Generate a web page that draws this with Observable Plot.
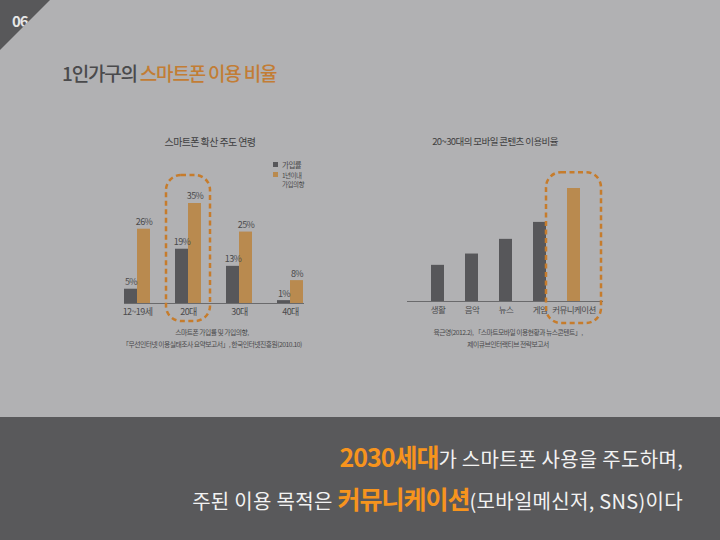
<!DOCTYPE html>
<html>
<head>
<meta charset="utf-8">
<script src="https://cdn.jsdelivr.net/npm/d3@7"></script>
<script src="https://cdn.jsdelivr.net/npm/@observablehq/plot@0.6"></script>
<style>
  body { margin: 0; width: 720px; height: 540px; overflow: hidden; background: #b1b1b3;
         font-family: "Noto Sans CJK KR", "Noto Sans", sans-serif; position: relative; }
  .abs { position: absolute; white-space: nowrap; }
  .corner { left: 0; top: 0; width: 50px; height: 50px; background: #58585a;
            clip-path: polygon(0 0, 100% 0, 0 100%); }
  .corner span { position: absolute; left: 12px; top: 13px; color: #e6e6e6; font: 700 15px/1 "Noto Sans CJK KR"; letter-spacing: -1px; }
  .title { left: 62px; top: 63px; font-size: 19px; line-height: 1; font-weight: 500; color: #4a4a4c; letter-spacing: -1.2px; }
  .title b { color: #c27d35; font-weight: 500; }
  .ctitle { top: 137px; font-size: 10px; line-height: 1; color: #3f3f41; letter-spacing: -0.6px; transform: translateX(-50%); }
  .cap { font-size: 6.8px; line-height: 11.5px; color: #4a4a4c; text-align: center; letter-spacing: -0.5px; transform: translateX(-50%); }
  .legend { font-size: 7.5px; line-height: 1; color: #4a4a4c; letter-spacing: -0.5px; }
  .sw { display: inline-block; width: 5px; height: 5px; margin-right: 4px; vertical-align: 1px; }
  .band { left: 0; top: 417px; width: 720px; height: 123px; background: #59595b; }
  .msg { right: 37px; color: #f2f2f2; font-size: 20px; letter-spacing: 0.3px; text-align: right; }
  .msg b { color: #f7941d; font-weight: 700; font-size: 25px; letter-spacing: -1px; }
  .plot { position: absolute; }
</style>
</head>
<body>
<div class="abs corner"><span>06</span></div>
<div class="abs title">1인가구의 <b>스마트폰 이용 비율</b></div>

<div class="abs ctitle" style="left:210px">스마트폰 확산 주도 연령</div>
<div class="abs ctitle" style="left:495px;font-size:9.5px">20~30대의 모바일 콘텐츠 이용비율</div>

<div class="abs legend" style="left:273px;top:161px"><span class="sw" style="background:#57575a"></span>가입률</div>
<div class="abs legend" style="left:273px;top:171px;font-size:6.5px;line-height:9px"><span class="sw" style="background:#b98a4f"></span>1년이내<br><span style="padding-left:9px">가입의향</span></div>

<div class="abs cap" style="left:212px;top:327px">스마트폰 가입률 및 가입의향,<br>「무선인터넷 이용실태조사 요약보고서」, 한국인터넷진흥원(2010.10)</div>
<div class="abs cap" style="left:508px;top:327px">육근영(2012.2), 「스마트모바일 이용현황과 뉴스콘텐트」,<br>제이큐브인터랙티브 전략보고서</div>

<div id="left" class="plot" style="left:100px;top:160px"></div>
<div id="right" class="plot" style="left:390px;top:160px"></div>

<div class="abs band"></div>
<div class="abs msg" style="top:438px"><b>2030세대</b>가 스마트폰 사용을 주도하며,</div>
<div class="abs msg" style="top:480px">주된 이용 목적은 <b>커뮤니케이션</b>(모바일메신저, SNS)이다</div>

<script>
// left chart: smartphone adoption by age
const ages = ["12~19세", "20대", "30대", "40대"];
const subscribed = [5, 19, 13, 1];   // 가입률 (%)
const intent = [26, 35, 25, 8];      // 1년이내 가입의향 (%)
const seriesNames = ["가입률", "1년이내 가입의향"];
const highlightAge = "20대";

// right chart: mobile content use among 20~30s (relative)
const contents = ["생활", "음악", "뉴스", "게임", "커뮤니케이션"];
const contentShare = [32, 42, 55, 70, 100];
const highlightContent = "커뮤니케이션";

const dark = "#57575a";
const tan = "#b98a4f";
const dash = "#c67c2c";
const font = "Noto Sans CJK KR";

const ageRows = ages.flatMap((age, i) => [
  {age, series: seriesNames[0], value: subscribed[i]},
  {age, series: seriesNames[1], value: intent[i]}
]);

const left = Plot.plot({
  width: 230, height: 175,
  marginLeft: 13, marginRight: 17, marginTop: 43, marginBottom: 32,
  style: {background: "transparent", fontFamily: font, color: "#4a4a4c", overflow: "visible", letterSpacing: "-0.6px"},
  fx: {domain: ages, paddingInner: 0.494, paddingOuter: 0.19, axis: null},
  x: {domain: seriesNames, padding: 0, axis: null},
  y: {domain: [0, d3.max(intent)], axis: null},
  color: {domain: seriesNames, range: [dark, tan]},
  marks: [
    Plot.barY(ageRows, {fx: "age", x: "series", y: "value", fill: "series"}),
    Plot.text(ageRows, {fx: "age", x: "series", y: "value", text: d => d.value + "%",
      dy: -7, fontSize: 9, fill: "#4a4a4c"}),
    // baseline across the whole frame, not per facet
    Plot.frame({anchor: "bottom", facet: "super", stroke: "#6a6a6c", strokeWidth: 1}),
    Plot.axisFx({anchor: "bottom", tickSize: 0, tickPadding: 5, fontSize: 9, label: null}),
    Plot.barY([highlightAge], {fx: d => d, y1: -d3.max(intent) * 0.18, y2: d3.max(intent) * 1.28,
      fill: "none", stroke: dash, strokeWidth: 2.5, strokeDasharray: "5,3.5", rx: 15,
      insetLeft: -9, insetRight: -9})
  ]
});
document.getElementById("left").append(left);

const contentRows = contents.map((content, i) => ({content, value: contentShare[i]}));

const right = Plot.plot({
  width: 230, height: 175,
  marginLeft: 17, marginRight: 17, marginTop: 28, marginBottom: 34,
  style: {background: "transparent", fontFamily: font, color: "#4a4a4c", overflow: "visible", letterSpacing: "-0.6px"},
  x: {domain: contents, paddingInner: 0.627, paddingOuter: 0.62},
  y: {domain: [0, d3.max(contentShare)], axis: null},
  marks: [
    Plot.barY(contentRows, {x: "content", y: "value",
      fill: d => d.content === highlightContent ? tan : dark}),
    Plot.ruleY([0], {stroke: "#6a6a6c", strokeWidth: 1}),
    Plot.axisX({tickSize: 0, tickPadding: 5, fontSize: 8.5, label: null}),
    Plot.barY([highlightContent], {x: d => d, y1: -d3.max(contentShare) * 0.195, y2: d3.max(contentShare) * 1.14,
      fill: "none", stroke: dash, strokeWidth: 2.5, strokeDasharray: "5,3.5", rx: 15,
      insetLeft: -21, insetRight: -21})
  ]
});
document.getElementById("right").append(right);
</script>
</body>
</html>
